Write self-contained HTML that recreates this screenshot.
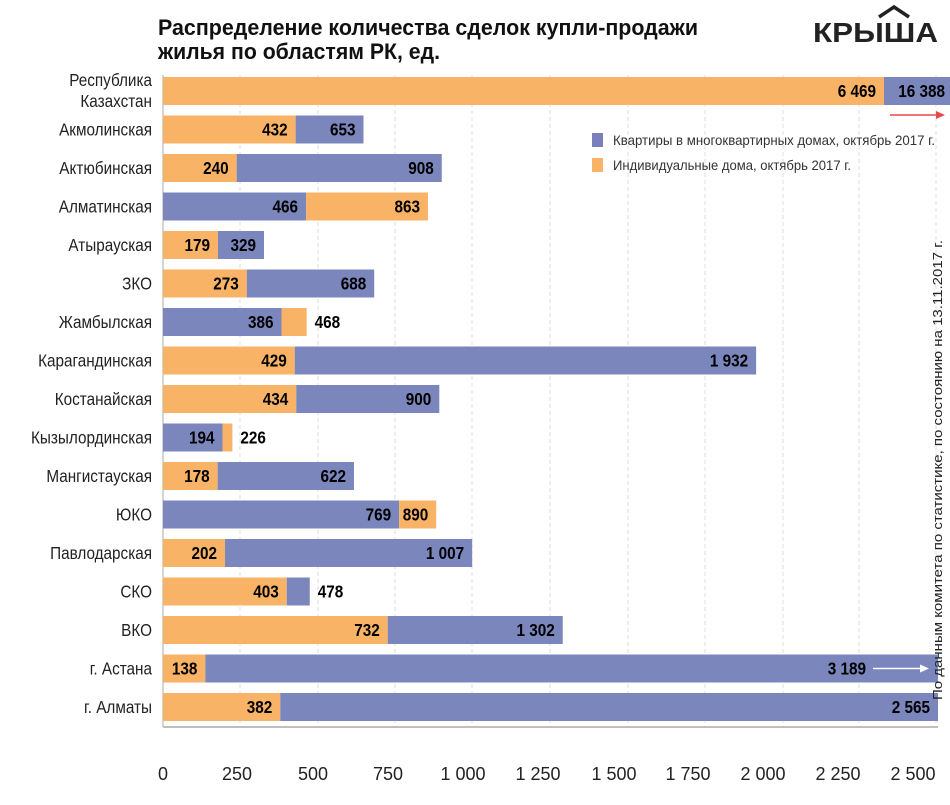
<!DOCTYPE html>
<html><head><meta charset="utf-8"><style>body{margin:0;background:#fff}svg{display:block}</style></head><body>
<svg width="950" height="805" xmlns="http://www.w3.org/2000/svg" font-family="Liberation Sans, sans-serif">
<rect width="950" height="805" fill="#fff"/>
<text x="158" y="35" font-size="22" font-weight="bold" textLength="540" lengthAdjust="spacingAndGlyphs" fill="#111">Распределение количества сделок купли-продажи</text>
<text x="158" y="59" font-size="22" font-weight="bold" textLength="282" lengthAdjust="spacingAndGlyphs" fill="#111">жилья по областям РК, ед.</text>
<text x="813" y="42" font-size="28" font-weight="bold" textLength="125" lengthAdjust="spacingAndGlyphs" fill="#222">КРЫША</text>
<polyline points="879,17 894,7 909,17" fill="none" stroke="#222" stroke-width="3.5"/>
<g stroke="#ddd" stroke-dasharray="4,3">
<line x1="240" y1="75" x2="240" y2="727"/><line x1="318" y1="75" x2="318" y2="727"/><line x1="395" y1="75" x2="395" y2="727"/><line x1="472" y1="75" x2="472" y2="727"/><line x1="550" y1="75" x2="550" y2="727"/><line x1="628" y1="75" x2="628" y2="727"/><line x1="705" y1="75" x2="705" y2="727"/><line x1="783" y1="75" x2="783" y2="727"/><line x1="859" y1="75" x2="859" y2="727"/><line x1="936" y1="75" x2="936" y2="727"/>
</g>
<line x1="163" y1="75" x2="163" y2="727" stroke="#aaa"/>
<line x1="163" y1="727" x2="938" y2="727" stroke="#aaa" stroke-width="1.5"/>
<g id="bars" font-size="18" font-weight="bold" fill="#000"></g>
<g font-size="18" text-anchor="middle" fill="#222">
<text x="163" y="780">0</text><text x="237" y="780">250</text><text x="313" y="780">500</text><text x="388" y="780">750</text><text x="463" y="780">1 000</text><text x="538" y="780">1 250</text><text x="614" y="780">1 500</text><text x="688" y="780">1 750</text><text x="763" y="780">2 000</text><text x="838" y="780">2 250</text><text x="913" y="780">2 500</text>
</g>
<rect x="592" y="133" width="11" height="14" fill="#7b7fbb"/>
<text x="613" y="145" font-size="14" fill="#333" textLength="322" lengthAdjust="spacingAndGlyphs">Квартиры в многоквартирных домах, октябрь 2017 г.</text>
<rect x="592" y="158" width="11" height="14" fill="#f9b366"/>
<text x="613" y="170" font-size="14" fill="#333" textLength="238" lengthAdjust="spacingAndGlyphs">Индивидуальные дома, октябрь 2017 г.</text>
<line x1="890" y1="115" x2="938" y2="115" stroke="#e8484a" stroke-width="1.5"/>
<polygon points="945,115 936,111 936,119" fill="#e8484a"/>
<text transform="translate(942,700) rotate(-90)" font-size="13" fill="#222" textLength="460" lengthAdjust="spacingAndGlyphs">По данным комитета по статистике, по состоянию на 13.11.2017 г.</text>
</svg>
<script>
var O="#f9b366",B="#7b86bd",s=0.307,x0=163;
var rows=[["Республика|Казахстан",O,6469,B,16388],["Акмолинская",O,432,B,653],["Актюбинская",O,240,B,908],["Алматинская",B,466,O,863],["Атырауская",O,179,B,329],["ЗКО",O,273,B,688],["Жамбылская",B,386,O,468,1],["Карагандинская",O,429,B,1932],["Костанайская",O,434,B,900],["Кызылординская",B,194,O,226,1],["Мангистауская",O,178,B,622],["ЮКО",B,769,O,890],["Павлодарская",O,202,B,1007],["СКО",O,403,B,478,1],["ВКО",O,732,B,1302],["г. Астана",O,138,B,3189],["г. Алматы",O,382,B,2565]];
var g=document.getElementById("bars"),h="";
function f(v){v=String(v);return v.length>3?v.slice(0,-3)+" "+v.slice(-3):v;}
function T(x,y,t,a,extra){return '<text transform="translate('+x+','+y+') scale(0.85,1)" text-anchor="'+a+'" '+(extra||'')+'>'+t+'</text>';}
rows.forEach(function(r,i){
 var cy=91+38.5*i,y=cy-14;
 var e1=x0+r[2]*s,e2=Math.min(x0+r[4]*s,938);
 if(i==0){e1=884;e2=950;}
 h+='<rect x="163" y="'+y+'" width="'+(e1-163)+'" height="28" fill="'+r[1]+'"/>';
 h+='<rect x="'+e1+'" y="'+y+'" width="'+(e2-e1)+'" height="28" fill="'+r[3]+'"/>';
 h+=T(e1-8,cy+6,f(r[2]),"end");
 if(r[5]) h+=T(e2+8,cy+6,f(r[4]),"start");
 else if(i==15) h+=T(866,cy+6,f(r[4]),"end")+'<line x1="873" y1="'+cy+'" x2="922" y2="'+cy+'" stroke="#fff" stroke-width="1.5"/><polygon points="929,'+cy+' 920,'+(cy-4)+' 920,'+(cy+4)+'" fill="#fff"/>';
 else h+=T(i==0?945:e2-8,cy+6,f(r[4]),"end");
 var L=r[0].split("|"),ex='font-weight="normal" fill="#222"';
 if(L.length==2) h+=T(152,cy-5,L[0],"end",ex)+T(152,cy+16,L[1],"end",ex);
 else h+=T(152,cy+6,L[0],"end",ex);
});
g.innerHTML=h;
</script>
</body></html>
